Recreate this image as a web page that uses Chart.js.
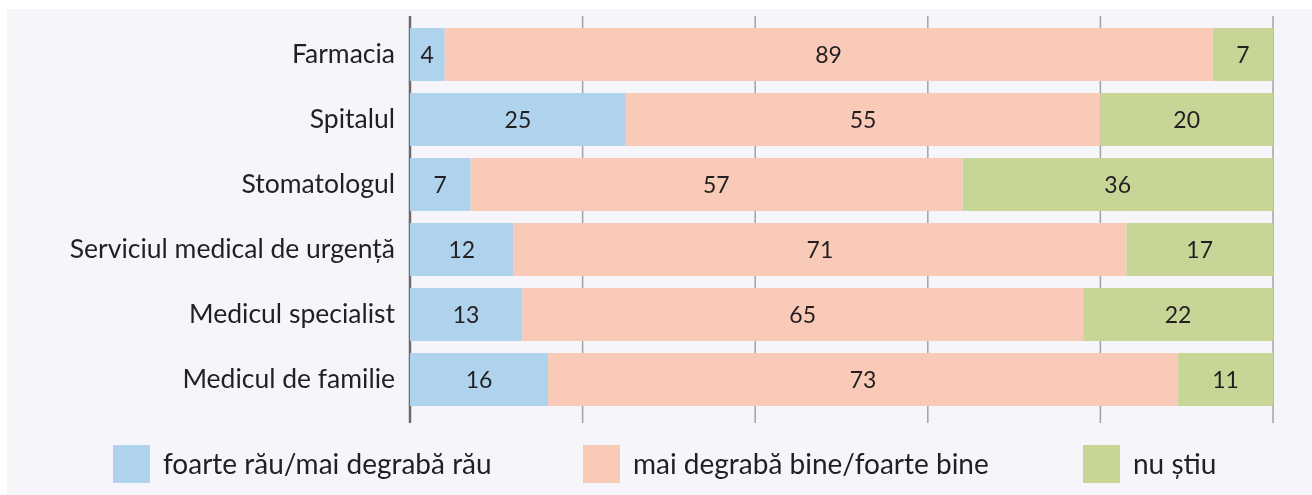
<!DOCTYPE html>
<html>
<head>
<meta charset="utf-8">
<script src="https://cdn.jsdelivr.net/npm/chart.js@4.4.0/dist/chart.umd.min.js"></script>
<style>
  body { margin: 0; background: #fff; }
  #box { position: absolute; left: 7px; top: 9px; width: 1305px; height: 486px; background: #f5f5fa; }
</style>
</head>
<body>
<div id="box"><canvas id="myChart"></canvas></div>
<script>
let categorii = ['Farmacia', 'Spitalul', 'Stomatologul', 'Serviciul medical de urgență', 'Medicul specialist', 'Medicul de familie'];
let rau = [4, 25, 7, 12, 13, 16];
let bine = [89, 55, 57, 71, 65, 73];
let nuStiu = [7, 20, 36, 17, 22, 11];
let serii = ['foarte rău/mai degrabă rău', 'mai degrabă bine/foarte bine', 'nu știu'];
let culori = ['#b0d3ed', '#f9cab7', '#c7d697'];
let xTicks = [0, 20, 40, 60, 80, 100];

const fontName = 'Lato';

// grid lines drawn a bit past the plot area like in the original
const gridPlugin = {
  id: 'gridPlugin',
  beforeDatasetsDraw(chart) {
    let c = chart.ctx;
    let area = chart.chartArea;
    let xs = chart.scales.x;
    c.save();
    xTicks.forEach(t => {
      let px = xs.getPixelForValue(t);
      c.beginPath();
      if (t === 0) {
        c.strokeStyle = '#6b6b6b';
        c.lineWidth = 2.5;
      } else {
        c.strokeStyle = '#a3a3a3';
        c.lineWidth = 1.5;
      }
      c.moveTo(px, area.top - 6);
      c.lineTo(px, area.bottom + 11);
      c.stroke();
    });
    c.restore();
  }
};

// numbers in the middle of each segment
const labelPlugin = {
  id: 'labelPlugin',
  afterDatasetsDraw(chart) {
    let c = chart.ctx;
    c.save();
    c.font = '23px ' + fontName;
    c.fillStyle = '#231f20';
    c.textAlign = 'center';
    c.textBaseline = 'middle';
    chart.data.datasets.forEach((ds, i) => {
      let meta = chart.getDatasetMeta(i);
      meta.data.forEach((bar, j) => {
        let mid = (bar.x + bar.base) / 2;
        c.fillText(ds.data[j], mid, bar.y + 1);
      });
    });
    c.restore();
  }
};

// legend under the plot, items spread like the original
const legendPlugin = {
  id: 'legendPlugin',
  afterDraw(chart) {
    let c = chart.ctx;
    let boxX = [106, 576, 1076];
    let top = chart.chartArea.bottom + 33;
    c.save();
    c.font = '28px ' + fontName;
    c.textBaseline = 'middle';
    c.textAlign = 'left';
    chart.data.datasets.forEach((ds, i) => {
      c.fillStyle = ds.backgroundColor;
      c.fillRect(boxX[i], top, 37, 38);
      c.fillStyle = '#231f20';
      c.fillText(ds.label, boxX[i] + 50, top + 20);
    });
    c.restore();
  }
};

const ctx = document.getElementById('myChart');
let myChart = new Chart(ctx, {
  type: 'bar',
  data: {
    labels: categorii,
    datasets: [
      { label: serii[0], data: rau, backgroundColor: culori[0] },
      { label: serii[1], data: bine, backgroundColor: culori[1] },
      { label: serii[2], data: nuStiu, backgroundColor: culori[2] }
    ]
  },
  options: {
    indexAxis: 'y',
    responsive: true,
    maintainAspectRatio: false,
    animation: false,
    barPercentage: 0.815,
    categoryPercentage: 1,
    layout: { padding: { top: 13, right: 39, left: 0, bottom: 62 } },
    scales: {
      x: {
        stacked: true,
        min: 0,
        max: 100,
        grid: { display: false },
        border: { display: false },
        ticks: { display: false, stepSize: 20 },
        afterFit: s => { s.height = 21; }
      },
      y: {
        stacked: true,
        grid: { display: false, drawTicks: false },
        border: { display: false },
        ticks: { color: '#231f20', font: { family: fontName, size: 26.5 }, padding: 15 },
        afterFit: s => {
          s.width = 403;
          s.paddingTop = 0;
          s.paddingBottom = 0;
        }
      }
    },
    plugins: {
      tooltip: { enabled: false },
      legend: { display: false }
    }
  },
  plugins: [gridPlugin, labelPlugin, legendPlugin]
});
</script>
</body>
</html>
